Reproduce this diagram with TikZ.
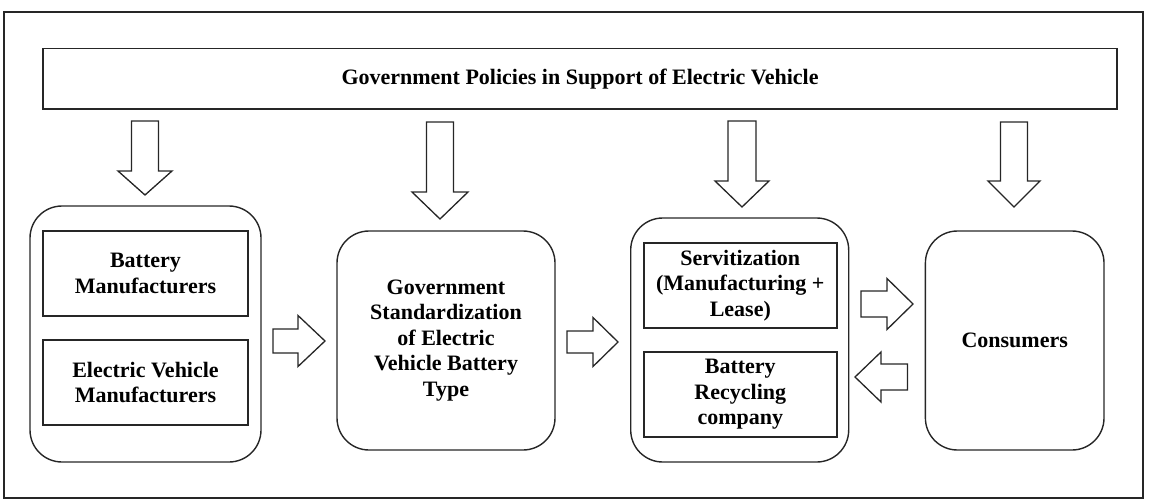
\documentclass[tikz,border=0pt]{standalone}
\usepackage{fontspec}
\setmainfont{Liberation Serif}
\begin{document}
\begin{tikzpicture}[x=1pt,y=-1pt,
  frame/.style={draw=black!85,line width=1.4pt},
  rbox/.style={draw=black!85,line width=1.4pt,rounded corners=32pt,inner sep=0pt},
  sbox/.style={draw=black!85,line width=1.4pt,inner sep=0pt},
  lbl/.style={align=center,font=\fontsize{22}{25.5}\selectfont\bfseries},
  blk/.style={draw=black!85,line width=1.3pt,fill=white,line join=miter}]
\useasboundingbox (0,0) rectangle (1164,501);
\newcommand\barrowdown[6]{%
  \draw[blk] ({#1-#5},#2) -- ({#1+#5},#2) -- ({#1+#5},#3) -- ({#1+#6},#3) -- (#1,#4) -- ({#1-#6},#3) -- ({#1-#5},#3) -- cycle;}
\newcommand\barrowh[6]{%
  \draw[blk] (#2,{#1-#5}) -- (#3,{#1-#5}) -- (#3,{#1-#6}) -- (#4,#1) -- (#3,{#1+#6}) -- (#3,{#1+#5}) -- (#2,{#1+#5}) -- cycle;}
% outer frame
\draw[frame] (4,12) rectangle (1143,498);
% top bar
\node[sbox,minimum width=1074pt,minimum height=60.5pt] (bar) at (580,78.75) {};
\node[lbl] (bartext) at (580,78.75) {Government Policies in Support of Electric Vehicle};
% left group
\node[rbox,minimum width=231pt,minimum height=256pt] (left) at (145.5,334) {};
\node[sbox,minimum width=205pt,minimum height=85pt,lbl] (bm) at (145.5,273.5) {Battery\\Manufacturers};
\node[sbox,minimum width=205pt,minimum height=85pt,lbl] (evm) at (145.5,382.5) {Electric Vehicle\\Manufacturers};
% middle
\node[rbox,minimum width=218pt,minimum height=219pt,lbl] (std) at (446,340.5) {Government\\Standardization\\of Electric\\Vehicle Battery\\Type};
% third group
\node[rbox,minimum width=218pt,minimum height=244pt] (third) at (739.7,340) {};
\node[sbox,minimum width=193pt,minimum height=85pt,lbl] (serv) at (740.3,285.5) {Servitization\\(Manufacturing +\\Lease)};
\node[sbox,minimum width=193pt,minimum height=85pt,lbl] (rec) at (740.3,394.5) {Battery\\Recycling\\company};
% consumers
\node[rbox,minimum width=178.6pt,minimum height=219pt,lbl] (cons) at (1014.7,340.5) {Consumers};
% down arrows
\barrowdown{145}{121}{171}{195}{13.5}{27}
\barrowdown{440}{122}{192}{219}{13.5}{28}
\barrowdown{742}{121}{181}{207}{14}{27}
\barrowdown{1014}{122}{181}{207}{13.5}{26}
% horizontal arrows
\barrowh{341}{273}{298}{325}{12}{25.5}
\barrowh{342}{567}{593}{618}{11}{24.5}
\barrowh{304}{861}{887}{913}{13}{25.5}
\barrowh{377}{907.5}{881}{855}{13}{25}
\end{tikzpicture}
\end{document}
